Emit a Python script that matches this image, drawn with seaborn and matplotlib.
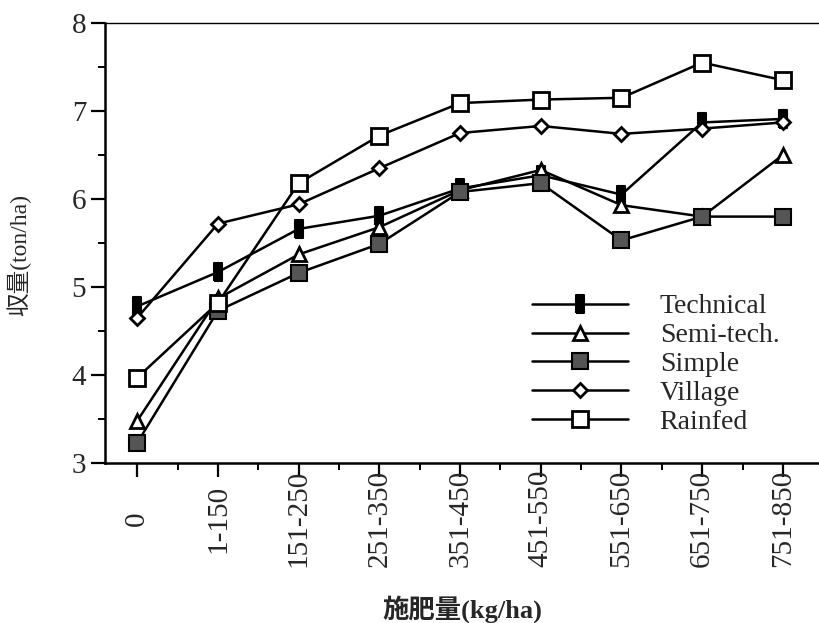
import numpy as np
import pandas as pd
import seaborn as sns
import matplotlib.pyplot as plt
from matplotlib.ticker import MultipleLocator, FixedLocator

# Categorías de fertilización y rendimientos
rates = ["0", "1-150", "151-250", "251-350", "351-450",
         "451-550", "551-650", "651-750", "751-850"]
technical = [4.78, 5.17, 5.66, 5.81, 6.12, 6.27, 6.05, 6.87, 6.91]
semi_tech = [3.48, 4.87, 5.37, 5.68, 6.10, 6.33, 5.93, 5.80, 6.50]
simple = [3.23, 4.73, 5.16, 5.49, 6.08, 6.18, 5.53, 5.80, 5.80]
village = [4.65, 5.72, 5.94, 6.35, 6.75, 6.83, 6.74, 6.80, 6.87]
rainfed = [3.97, 4.82, 6.18, 6.72, 7.09, 7.13, 7.15, 7.55, 7.35]

names = ["Technical", "Semi-tech.", "Simple", "Village", "Rainfed"]
values = [technical, semi_tech, simple, village, rainfed]

df = pd.concat(
    [pd.DataFrame({"pos": np.arange(len(rates)), "rate": rates, "yield": v, "group": n})
     for n, v in zip(names, values)],
    ignore_index=True,
)

sns.set_style("ticks")
plt.rcParams["font.family"] = ["Liberation Serif", "Noto Sans CJK JP"]

rect = [(-0.4, -1), (0.4, -1), (0.4, 1), (-0.4, 1), (-0.4, -1)]
estilos = {
    "Technical": dict(marker=rect, markersize=13, mfc="black", mec="black", mew=1.5),
    "Semi-tech.": dict(marker="^", markersize=10, mfc="white", mec="black", mew=2),
    "Simple": dict(marker="s", markersize=11, mfc="#555555", mec="black", mew=1.5),
    "Village": dict(marker="D", markersize=7, mfc="white", mec="black", mew=2),
    "Rainfed": dict(marker="s", markersize=12, mfc="white", mec="black", mew=2),
}

fig = plt.figure(figsize=(8.2, 6.23), dpi=100)
ax = fig.add_axes([105 / 820, 160 / 623, 715 / 820, 440 / 623])

for n in names:
    sub = df[df["group"] == n]
    sns.lineplot(data=sub, x="pos", y="yield", color="black", linewidth=1.8,
                 label=n, ax=ax, **estilos[n])

ax.set_xlim(-0.4, 8.46)
ax.set_ylim(3, 8)
ax.set_xticks(np.arange(len(rates)))
ax.set_xticklabels(rates, rotation=90, fontsize=21, va="center")
ax.xaxis.set_minor_locator(FixedLocator(np.arange(len(rates) - 1) + 0.5))
ax.yaxis.set_major_locator(MultipleLocator(1))
ax.yaxis.set_minor_locator(MultipleLocator(0.5))
ax.tick_params(axis="y", labelsize=21)
ax.tick_params(which="major", direction="out", length=10, width=1.6, color="black")
ax.tick_params(which="minor", direction="out", length=5, width=1.4, color="black")
ax.tick_params(axis="x", which="major", pad=30)

for s in ["left", "bottom"]:
    ax.spines[s].set_linewidth(1.8)
    ax.spines[s].set_color("black")
ax.spines["top"].set_linewidth(1.0)
ax.spines["top"].set_color("black")
ax.spines["right"].set_visible(False)

ax.set_xlabel("施肥量(kg/ha)", fontsize=19, fontweight="bold")
ax.set_ylabel("収量(ton/ha)", fontsize=17)
ax.xaxis.set_label_coords(0.5, -0.30)
ax.yaxis.set_label_coords(-0.103, 0.473)

ax.legend(loc="upper left", bbox_to_anchor=(0.597, 0.384), frameon=False,
          fontsize=20, borderpad=0, borderaxespad=0, labelspacing=0.12,
          handlelength=3.45, handletextpad=1.15)

plt.savefig("out.png", dpi=100)
plt.close()
